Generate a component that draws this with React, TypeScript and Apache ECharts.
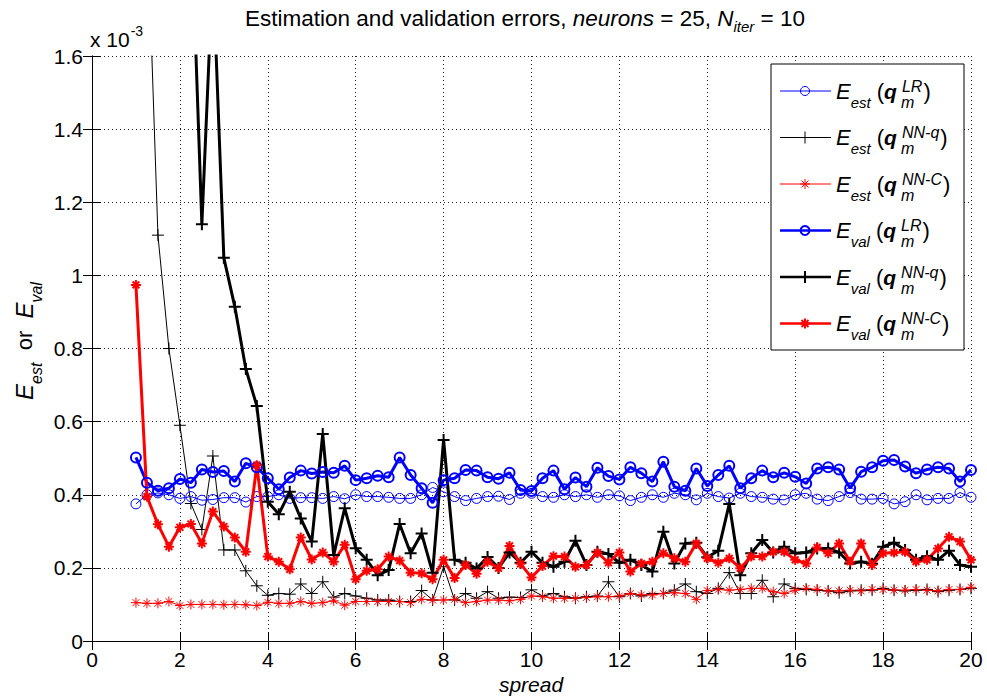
import React, { useEffect, useRef } from "react";
import * as echarts from "echarts";

const spread = [
  1, 1.25, 1.5, 1.75, 2, 2.25, 2.5, 2.75, 3, 3.25, 3.5, 3.75, 4, 4.25, 4.5, 4.75,
  5, 5.25, 5.5, 5.75, 6, 6.25, 6.5, 6.75, 7, 7.25, 7.5, 7.75, 8, 8.25, 8.5, 8.75,
  9, 9.25, 9.5, 9.75, 10, 10.25, 10.5, 10.75, 11, 11.25, 11.5, 11.75, 12, 12.25, 12.5, 12.75,
  13, 13.25, 13.5, 13.75, 14, 14.25, 14.5, 14.75, 15, 15.25, 15.5, 15.75, 16, 16.25, 16.5, 16.75,
  17, 17.25, 17.5, 17.75, 18, 18.25, 18.5, 18.75, 19, 19.25, 19.5, 19.75, 20,
];

// values in units of 1e-3
const estLR = [
  0.375, 0.4, 0.405, 0.4, 0.39, 0.395, 0.385, 0.387, 0.392, 0.392, 0.38, 0.395, 0.395, 0.4, 0.39, 0.392,
  0.392, 0.39, 0.395, 0.389, 0.4, 0.395, 0.395, 0.393, 0.39, 0.39, 0.4, 0.42, 0.408, 0.395, 0.384, 0.39,
  0.395, 0.396, 0.387, 0.404, 0.404, 0.395, 0.393, 0.4, 0.395, 0.4, 0.393, 0.4, 0.397, 0.384, 0.393, 0.4,
  0.393, 0.404, 0.4, 0.386, 0.404, 0.395, 0.391, 0.404, 0.395, 0.393, 0.388, 0.386, 0.4, 0.404, 0.388, 0.384,
  0.395, 0.406, 0.388, 0.388, 0.39, 0.375, 0.381, 0.4, 0.386, 0.39, 0.39, 0.406, 0.393,
];
const estNNq = [
  2.6, 2.0, 1.11, 0.8, 0.59, 0.376, 0.305, 0.506, 0.249, 0.249, 0.192, 0.151, 0.125, 0.13, 0.128, 0.156,
  0.13, 0.162, 0.12, 0.13, 0.123, 0.117, 0.112, 0.112, 0.108, 0.108, 0.138, 0.112, 0.203, 0.112, 0.13, 0.117,
  0.135, 0.117, 0.12, 0.119, 0.14, 0.123, 0.13, 0.121, 0.117, 0.121, 0.123, 0.162, 0.121, 0.13, 0.123, 0.13,
  0.13, 0.139, 0.156, 0.135, 0.13, 0.144, 0.187, 0.13, 0.13, 0.166, 0.121, 0.156, 0.144, 0.141, 0.139, 0.137,
  0.132, 0.137, 0.139, 0.139, 0.144, 0.139, 0.137, 0.139, 0.141, 0.135, 0.139, 0.141, 0.144,
];
const estNNC = [
  0.105, 0.103, 0.103, 0.108, 0.097, 0.1, 0.1, 0.1, 0.099, 0.1, 0.099, 0.097, 0.106, 0.103, 0.103, 0.108,
  0.103, 0.105, 0.11, 0.098, 0.108, 0.108, 0.108, 0.108, 0.108, 0.105, 0.114, 0.112, 0.112, 0.114, 0.105, 0.108,
  0.112, 0.112, 0.11, 0.114, 0.123, 0.121, 0.117, 0.117, 0.117, 0.119, 0.121, 0.121, 0.123, 0.13, 0.126, 0.126,
  0.13, 0.132, 0.13, 0.114, 0.138, 0.141, 0.139, 0.141, 0.144, 0.144, 0.135, 0.13, 0.139, 0.144, 0.141, 0.137,
  0.137, 0.139, 0.137, 0.141, 0.141, 0.139, 0.139, 0.141, 0.139, 0.137, 0.141, 0.141, 0.147,
];
const valLR = [
  0.502, 0.433, 0.411, 0.418, 0.443, 0.433, 0.469, 0.462, 0.465, 0.436, 0.486, 0.475, 0.445, 0.415, 0.447, 0.466,
  0.458, 0.462, 0.46, 0.479, 0.44, 0.445, 0.452, 0.448, 0.502, 0.454, 0.418, 0.378, 0.44, 0.445, 0.468, 0.466,
  0.448, 0.444, 0.46, 0.413, 0.41, 0.445, 0.466, 0.415, 0.447, 0.422, 0.474, 0.451, 0.442, 0.475, 0.459, 0.436,
  0.49, 0.422, 0.411, 0.472, 0.424, 0.454, 0.479, 0.418, 0.445, 0.466, 0.448, 0.46, 0.449, 0.431, 0.472, 0.475,
  0.469, 0.418, 0.463, 0.475, 0.493, 0.495, 0.477, 0.459, 0.469, 0.475, 0.472, 0.436, 0.468,
];
const valNNq = [
  3.6, 3.3, 3.0, 2.7, 2.4, 2.0, 1.14, 1.84, 1.048, 0.914, 0.744, 0.643, 0.381, 0.347, 0.408, 0.335,
  0.272, 0.566, 0.235, 0.363, 0.254, 0.222, 0.18, 0.194, 0.32, 0.24, 0.294, 0.187, 0.55, 0.222, 0.214, 0.198,
  0.23, 0.2, 0.242, 0.214, 0.244, 0.214, 0.203, 0.217, 0.274, 0.208, 0.244, 0.238, 0.214, 0.222, 0.208, 0.19,
  0.299, 0.212, 0.267, 0.269, 0.229, 0.247, 0.375, 0.18, 0.24, 0.276, 0.242, 0.258, 0.24, 0.242, 0.253, 0.253,
  0.242, 0.212, 0.217, 0.211, 0.258, 0.269, 0.249, 0.222, 0.232, 0.222, 0.247, 0.208, 0.203,
];
const valNNC = [
  0.974, 0.395, 0.319, 0.258, 0.311, 0.32, 0.267, 0.354, 0.313, 0.283, 0.244, 0.481, 0.231, 0.217, 0.196, 0.283,
  0.223, 0.242, 0.217, 0.263, 0.169, 0.192, 0.196, 0.231, 0.22, 0.187, 0.185, 0.169, 0.222, 0.172, 0.208, 0.184,
  0.217, 0.199, 0.26, 0.211, 0.174, 0.205, 0.232, 0.231, 0.203, 0.208, 0.242, 0.214, 0.242, 0.19, 0.212, 0.217,
  0.24, 0.226, 0.217, 0.267, 0.226, 0.214, 0.226, 0.199, 0.231, 0.231, 0.244, 0.244, 0.222, 0.212, 0.256, 0.24,
  0.267, 0.217, 0.267, 0.208, 0.24, 0.242, 0.244, 0.217, 0.222, 0.253, 0.285, 0.272, 0.222,
];

const subs = ["est", "est", "est", "val", "val", "val"];
const sups = ["LR", "NN-q", "NN-C", "LR", "NN-q", "NN-C"];

const FONT = "'Liberation Sans', Arial, Helvetica, sans-serif";
const BLUE = "#0000ff";
const RED = "#ff0000";
const BLACK = "#000000";

const PLUS = "path://M5,0L5,10M0,5L10,5";
const STAR = "path://M5,0L5,10M0,5L10,5M1.6,1.6L8.4,8.4M1.6,8.4L8.4,1.6";
const CIRC = "path://M10,5A5,5 0 1 1 0,5A5,5 0 1 1 10,5Z";

type Spec = { vals: number[]; color: string; kind: "o" | "+" | "*"; thick: boolean };
const specs: Spec[] = [
  { vals: estLR, color: BLUE, kind: "o", thick: false },
  { vals: estNNq, color: BLACK, kind: "+", thick: false },
  { vals: estNNC, color: RED, kind: "*", thick: false },
  { vals: valLR, color: BLUE, kind: "o", thick: true },
  { vals: valNNq, color: BLACK, kind: "+", thick: true },
  { vals: valNNC, color: RED, kind: "*", thick: true },
];

function legendGraphics() {
  const els: any[] = [];
  const bx = 771, by = 64, bw = 193, bh = 286;
  els.push({
    type: "rect",
    shape: { x: bx, y: by, width: bw, height: bh },
    style: { fill: "#fff", stroke: "#000", lineWidth: 1 },
    z: 100,
  });
  specs.forEach((s, i) => {
    const y = 91 + 46.5 * i;
    const lw = s.thick ? 2.5 : 1;
    els.push({
      type: "line",
      shape: { x1: 780, y1: y, x2: 831, y2: y },
      style: { stroke: s.color, lineWidth: lw },
      z: 101,
    });
    const cx = 805;
    if (s.kind === "o") {
      els.push({
        type: "circle",
        shape: { cx, cy: y, r: 4.5 },
        style: { fill: "none", stroke: s.color, lineWidth: s.thick ? 2 : 1 },
        z: 102,
      });
    } else {
      const r = s.kind === "+" ? 6 : 5;
      const segs: number[][] = [
        [cx, y - r, cx, y + r],
        [cx - r, y, cx + r, y],
      ];
      if (s.kind === "*") {
        const d = r * 0.7;
        segs.push([cx - d, y - d, cx + d, y + d]);
        segs.push([cx - d, y + d, cx + d, y - d]);
      }
      segs.forEach((g) =>
        els.push({
          type: "line",
          shape: { x1: g[0], y1: g[1], x2: g[2], y2: g[3] },
          style: { stroke: s.color, lineWidth: s.thick ? 2 : 1 },
          z: 102,
        })
      );
    }
    els.push({
      type: "text",
      x: 836,
      y,
      z: 103,
      style: {
        text: `{E|E}{sub|${subs[i]}}{p| (}{q|q}{sup|${sups[i]}}{p|)}`,
        verticalAlign: "middle",
        align: "left",
        fontFamily: FONT,
        fill: "#000",
        rich: {
          E: { fontSize: 22, fontStyle: "italic", fontFamily: FONT },
          sub: { fontSize: 15, fontStyle: "italic", fontFamily: FONT, padding: [22, 0, 0, 0] },
          p: { fontSize: 22, fontFamily: FONT },
          q: { fontSize: 21, fontStyle: "italic", fontWeight: "bold", fontFamily: FONT },
          sup: { fontSize: 16, fontStyle: "italic", fontFamily: FONT, padding: [0, 1, 10, 5] },
        },
      },
    });
    els.push({
      type: "text",
      x: 901,
      y: y + 11,
      z: 103,
      style: {
        text: "m",
        verticalAlign: "middle",
        align: "left",
        fontSize: 16,
        fontStyle: "italic",
        fontFamily: FONT,
        fill: "#000",
      },
    });
  });
  return els;
}

export default function App() {
  const ref = useRef<HTMLDivElement>(null);
  useEffect(() => {
    if (!ref.current) return;
    const chart = echarts.init(ref.current, null, { renderer: "svg" });
    const axisCommon = {
      type: "value" as const,
      axisLine: { show: true, lineStyle: { color: "#000", width: 1 } },
      axisTick: { show: true, inside: true, length: 9, lineStyle: { color: "#000" } },
    };
    const series = specs.map((s) => ({
      type: "line",
      data: spread.map((x, i) => [x, s.vals[i]]),
      symbol: s.kind === "o" ? CIRC : s.kind === "+" ? PLUS : STAR,
      symbolSize: s.kind === "+" ? 12 : s.kind === "*" ? 10 : 10,
      showSymbol: true,
      clip: true,
      lineStyle: { color: s.color, width: s.thick ? 3 : 1 },
      itemStyle: {
        color: s.kind === "o" ? "transparent" : s.color,
        borderColor: s.color,
        borderWidth: s.thick ? 2 : 1,
      },
      emphasis: { disabled: true },
      z: s.thick ? 3 : 2,
    }));
    chart.setOption({
      animation: false,
      backgroundColor: "#fff",
      textStyle: { fontFamily: FONT },
      grid: { left: 92, right: 16, top: 56, bottom: 56, containLabel: false },
      xAxis: [
        {
          ...axisCommon,
          min: 0,
          max: 20,
          interval: 2,
          position: "bottom",
          axisLabel: { color: "#000", fontSize: 21, fontFamily: FONT, margin: 8 },
          splitLine: { show: true, lineStyle: { color: "#222", type: [1, 3], width: 1 } },
        },
        {
          ...axisCommon,
          min: 0,
          max: 20,
          interval: 2,
          position: "top",
          axisLabel: { show: false },
          splitLine: { show: false },
        },
      ],
      yAxis: [
        {
          ...axisCommon,
          min: 0,
          max: 1.6,
          interval: 0.2,
          position: "left",
          axisLabel: { color: "#000", fontSize: 21, fontFamily: FONT, margin: 9 },
          splitLine: { show: true, lineStyle: { color: "#222", type: [1, 3], width: 1 } },
        },
        {
          ...axisCommon,
          min: 0,
          max: 1.6,
          interval: 0.2,
          position: "right",
          axisLabel: { show: false },
          splitLine: { show: false },
        },
      ],
      series,
      graphic: [
        {
          type: "text",
          x: 525,
          y: 18,
          style: {
            text: "{n|Estimation and validation errors, }{i|neurons}{n| = 25, }{i|N}{s|iter}{n| = 10}",
            align: "center",
            verticalAlign: "middle",
            fill: "#000",
            rich: {
              n: { fontSize: 22.5, fontFamily: FONT },
              i: { fontSize: 22.5, fontStyle: "italic", fontFamily: FONT },
              s: { fontSize: 15, fontStyle: "italic", fontFamily: FONT, padding: [16, 0, 0, 0] },
            },
          },
        },
        {
          type: "text",
          x: 90,
          y: 39,
          style: {
            text: "{n|x 10}{s|-3}",
            align: "left",
            verticalAlign: "middle",
            fill: "#000",
            rich: {
              n: { fontSize: 21, fontFamily: FONT },
              s: { fontSize: 14, fontFamily: FONT, padding: [0, 0, 16, 1] },
            },
          },
        },
        {
          type: "text",
          x: 531,
          y: 684,
          style: {
            text: "spread",
            align: "center",
            verticalAlign: "middle",
            fill: "#000",
            fontSize: 21,
            fontStyle: "italic",
            fontFamily: FONT,
          },
        },
        {
          type: "text",
          x: 24,
          y: 341,
          rotation: Math.PI / 2,
          style: {
            text: "{E|E}{s|est}{n|  or  }{E|E}{s|val}",
            align: "center",
            verticalAlign: "middle",
            fill: "#000",
            rich: {
              E: { fontSize: 24, fontStyle: "italic", fontFamily: FONT },
              n: { fontSize: 22, fontFamily: FONT },
              s: { fontSize: 16, fontStyle: "italic", fontFamily: FONT, padding: [24, 0, 0, 0] },
            },
          },
        },
        ...legendGraphics(),
      ],
    });
    return () => chart.dispose();
  }, []);
  return (
    <div
      ref={ref}
      style={{ position: "fixed", left: 0, top: 0, width: 987, height: 697, background: "#fff" }}
    />
  );
}
